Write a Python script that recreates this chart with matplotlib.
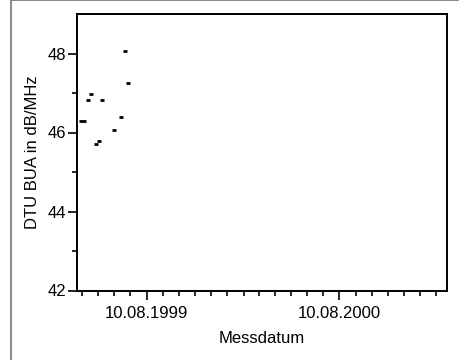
import datetime as dt
import matplotlib
matplotlib.use("Agg")
import matplotlib.pyplot as plt
import matplotlib.dates as mdates
from matplotlib.lines import Line2D

dates = ["1999-04-07", "1999-04-13", "1999-04-21", "1999-04-27", "1999-05-06",
         "1999-05-12", "1999-05-18", "1999-06-10", "1999-06-22", "1999-07-01",
         "1999-07-06"]
bua = [46.29, 46.29, 46.83, 46.98, 45.70, 45.79, 46.83, 46.06, 46.40, 48.07, 47.25]

x_start = "1999-03-31"
x_end = "2001-03-02"
y_min, y_max = 42, 49

plt.rcParams['font.family'] = ['Liberation Sans', 'DejaVu Sans']

fig = plt.figure(figsize=(4.59, 3.6), dpi=100)
ax = fig.add_axes([77 / 459, 1 - 290.5 / 360, 370 / 459, 276.5 / 360])

xd = [dt.datetime.strptime(d, "%Y-%m-%d") for d in dates]
ax.plot(xd, bua, linestyle="none", marker="_", markersize=3.5,
        markeredgewidth=2, color="black")

ax.set_xlim(dt.datetime.strptime(x_start, "%Y-%m-%d"),
            dt.datetime.strptime(x_end, "%Y-%m-%d"))
ax.set_ylim(y_min, y_max)

ax.xaxis.set_major_locator(mdates.YearLocator(1, month=8, day=10))
ax.xaxis.set_major_formatter(mdates.DateFormatter("%d.%m.%Y"))
ax.xaxis.set_minor_locator(mdates.MonthLocator(bymonthday=10))
ax.set_yticks([42, 44, 46, 48])
ax.set_yticks([43, 45, 47], minor=True)

ax.tick_params(which="major", length=6.5, width=1.2, labelsize=12, colors="black")
ax.tick_params(axis="x", which="major", pad=5)
ax.tick_params(axis="y", which="major", pad=1.5)
ax.tick_params(which="minor", length=3.5, width=1.2)
for s in ax.spines.values():
    s.set_linewidth(1.4)

ax.set_xlabel("Messdatum", fontsize=12, labelpad=7)
ax.set_ylabel("DTU BUA in dB/MHz", fontsize=12, labelpad=5)

# grauer Rahmen links und oben
fig.add_artist(Line2D([10.5 / 459, 10.5 / 459], [0, 1], color="gray", lw=1.3))
fig.add_artist(Line2D([10.5 / 459, 1], [0.999, 0.999], color="gray", lw=1.3))

fig.savefig("out.png", dpi=100)
